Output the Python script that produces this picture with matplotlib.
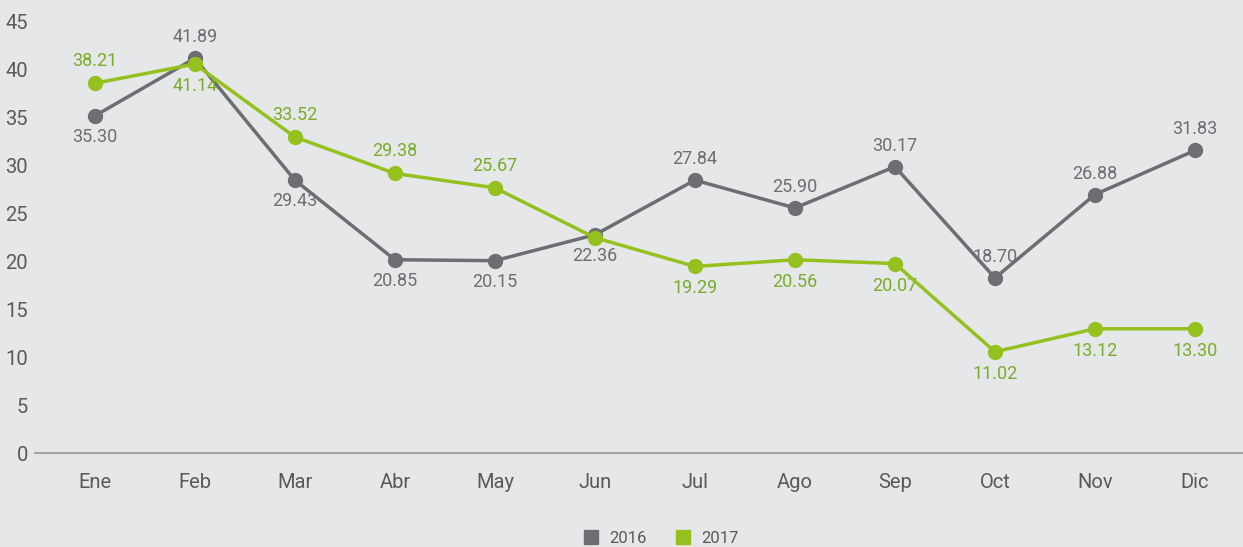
import matplotlib
matplotlib.use("Agg")
import matplotlib.pyplot as plt
from matplotlib.lines import Line2D

months = ["Ene", "Feb", "Mar", "Abr", "May", "Jun", "Jul", "Ago", "Sep", "Oct", "Nov", "Dic"]

# plotted positions
vals_2016 = [35.2, 41.2, 28.5, 20.2, 20.1, 22.8, 28.5, 25.6, 29.9, 18.3, 27.0, 31.6]
vals_2017 = [38.6, 40.6, 33.0, 29.2, 27.7, 22.5, 19.5, 20.2, 19.8, 10.6, 13.0, 13.0]
# data label text as printed
labels_2016 = ["35.30", "41.89", "29.43", "20.85", "20.15", "22.36", "27.84", "25.90", "30.17", "18.70", "26.88", "31.83"]
labels_2017 = ["38.21", "41.14", "33.52", "29.38", "25.67", "", "19.29", "20.56", "20.07", "11.02", "13.12", "13.30"]
# +1 label above point, -1 below
side_2016 = [-1, 1, -1, -1, -1, -1, 1, 1, 1, 1, 1, 1]
side_2017 = [1, -1, 1, 1, 1, 0, -1, -1, -1, -1, -1, -1]

BG = "#e6e7e9"
GRAY = "#6d6e71"
GREEN = "#95c11f"
GREEN_TXT = "#7aac2c"
TXT = "#58595b"
FONT = "Roboto"

fig = plt.figure(figsize=(12.43, 5.47), dpi=100, facecolor=BG)
ax = fig.add_axes([0.028, 0.171, 0.972, 0.789], facecolor=BG)

x = list(range(len(months)))
ax.plot(x, vals_2016, "-o", color=GRAY, lw=2.5, ms=10, clip_on=False, zorder=3)
ax.plot(x, vals_2017, "-o", color=GREEN, lw=2.5, ms=10, clip_on=False, zorder=4)

for xs, v, t, s in zip(x, vals_2016, labels_2016, side_2016):
    ax.annotate(t, (xs, v), xytext=(0, 21 * s), textcoords="offset pixels",
                ha="center", va="center", fontsize=13, color=GRAY, family=FONT)
for xs, v, t, s in zip(x, vals_2017, labels_2017, side_2017):
    if t:
        ax.annotate(t, (xs, v), xytext=(0, 22 * s), textcoords="offset pixels",
                    ha="center", va="center", fontsize=13, color=GREEN_TXT, family=FONT)

ax.set_xlim(-0.6, 11.48)
ax.set_ylim(0, 45)
ax.set_yticks(range(0, 46, 5))
ax.set_xticks(x)
ax.set_xticklabels(months)
for s in ["top", "right", "left"]:
    ax.spines[s].set_visible(False)
ax.spines["bottom"].set_color("#a3a4a6")
ax.spines["bottom"].set_linewidth(1.5)
ax.tick_params(axis="both", length=0, colors=TXT, labelsize=14.5)
ax.tick_params(axis="x", pad=14)
ax.tick_params(axis="y", pad=5)
for lab in ax.get_xticklabels() + ax.get_yticklabels():
    lab.set_family(FONT)

handles = [Line2D([], [], ls="", marker="s", ms=10, color=GRAY),
           Line2D([], [], ls="", marker="s", ms=10, color=GREEN)]
fig.legend(handles, ["2016", "2017"], loc="center", bbox_to_anchor=(0.528, 0.016),
           ncol=2, frameon=False, handletextpad=0.1, columnspacing=1.2,
           prop={"family": FONT, "size": 12}, labelcolor=TXT)

fig.savefig("out.png", dpi=100, facecolor=BG)
